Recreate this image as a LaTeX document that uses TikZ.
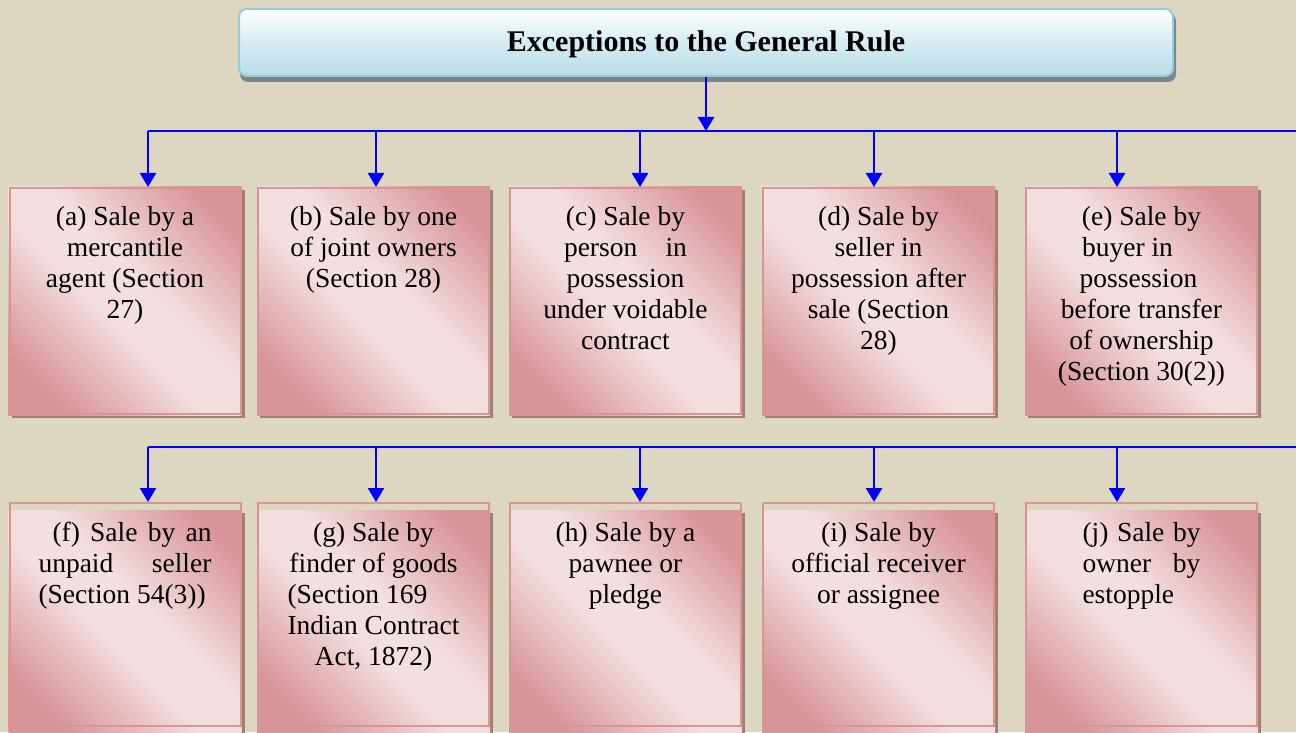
\documentclass[tikz,border=0pt]{standalone}
\usepackage{fontspec}
\setmainfont{Liberation Serif}
\usetikzlibrary{arrows.meta,backgrounds,calc}
\definecolor{bgtan}{RGB}{221,215,193}
\definecolor{pkb}{RGB}{217,149,148}
\definecolor{pkd}{RGB}{216,148,153}
\definecolor{pkl}{RGB}{243,222,224}
\definecolor{pksh}{RGB}{160,126,118}
\definecolor{tbord}{RGB}{146,205,220}
\definecolor{tblue}{RGB}{183,221,232}
\definecolor{tmid}{RGB}{214,236,242}
\definecolor{tsh}{RGB}{125,133,135}
\pgfdeclareverticalshading{pinkdiag}{100bp}{color(0bp)=(pkd); color(24bp)=(pkd); color(45bp)=(pkl); color(56bp)=(pkl); color(78bp)=(pkd); color(100bp)=(pkd)}
\newcommand\mybox[2]{\parbox[t][#1][t]{231pt}{\centering\rule{0pt}{38pt}#2}}
\begin{document}
\begin{tikzpicture}[x=1pt,y=1pt,
  conn/.style={blue, line width=2.5pt},
  arr/.style={conn, -{Triangle[width=16pt,length=14pt]}},
  pinkbox/.style={draw=pkb, line width=2pt, inner sep=0pt, anchor=north,
    font=\fontsize{27.5}{31}\selectfont},
  titlebox/.style={draw=tbord, line width=2pt, rounded corners=8pt,
    minimum width=934pt, minimum height=67pt, inner sep=0pt,
    top color=white, bottom color=tblue, middle color=tmid,
    font=\fontsize{30}{36}\selectfont\bfseries}
]
\useasboundingbox (0,0) rectangle (1296,732);

% title
\node[titlebox] (title) at (706,689.5) {\raisebox{-2pt}[\height][\depth]{Exceptions to the General Rule}};

% row 1
\node[pinkbox] (a) at (125,545) {\mybox{226pt}{(a) Sale by a\\mercantile\\agent (Section\\27)}};
\node[pinkbox] (b) at (373.5,545) {\mybox{226pt}{(b) Sale by one\\of joint owners\\(Section 28)}};
\node[pinkbox] (c) at (625.5,545) {\mybox{226pt}{(c) Sale by\\\makebox[123pt][s]{person in}\\possession\\under voidable\\contract}};
\node[pinkbox] (d) at (878.5,545) {\mybox{226pt}{(d) Sale by\\seller in\\possession after\\sale (Section\\28)}};
\node[pinkbox] (e) at (1141.5,545) {\mybox{226pt}{(e) Sale by\\buyer in\rule{28pt}{0pt}\\possession\rule{6pt}{0pt}\\before transfer\\of ownership\\(Section 30(2))}};

% row 2
\node[pinkbox] (f) at (125,230) {\mybox{223pt}{\hspace*{14pt}\makebox[159pt][s]{(f) Sale by an}\\\makebox[173pt][s]{unpaid seller}\\\makebox[173pt][l]{(Section 54(3))}}};
\node[pinkbox] (g) at (373.5,230) {\mybox{223pt}{(g) Sale by\\finder of goods\\\makebox[172pt][l]{(Section 169}\\Indian Contract\\Act, 1872)}};
\node[pinkbox] (h) at (625.5,230) {\mybox{223pt}{(h) Sale by a\\pawnee or\\pledge}};
\node[pinkbox] (i) at (878.5,230) {\mybox{223pt}{(i) Sale by\\official receiver\\or assignee}};
\node[pinkbox] (j) at (1141.5,230) {\mybox{223pt}{\makebox[118pt][s]{(j) Sale by}\\\makebox[118pt][s]{owner by}\\\makebox[118pt][l]{estopple}}};

% backgrounds, shadows and fills
\begin{scope}[on background layer]
  \fill[bgtan] (0,0) rectangle (1296,732);
  \fill[tsh, rounded corners=8pt] ($(title.south west)+(2,-5)$) rectangle ($(title.north east)+(2,-5)$);
  \foreach \n in {a,b,c,d,e}{
    \fill[pksh] ($(\n.south west)+(3,-3)$) rectangle ($(\n.north east)+(3,-3)$);
    \shade[shading=pinkdiag, shading angle=-45] (\n.south west) rectangle (\n.north east);
  }
  \foreach \n in {f,g,h,i,j}{
    \fill[pksh] ($(\n.south west)+(3,-11)$) rectangle ($(\n.north east)+(3,-11)$);
    \shade[shading=pinkdiag, shading angle=-45] ($(\n.south west)+(0,-8)$) rectangle ($(\n.north east)+(0,-8)$);
  }
\end{scope}

% connectors, row 1
\coordinate (bus1) at (706,601);
\coordinate (bus1r) at (1296,601);
\draw[arr] (title.south) -- (bus1);
\foreach \n/\x in {a/148,b/376,c/640,d/874,e/1117}{
  \coordinate (t\n) at (\x,601);
}
\draw[conn] (ta) -- (bus1r);
\foreach \n in {a,b,c,d,e}{
  \draw[arr] (t\n) -- (t\n |- \n.north);
}

% connectors, row 2
\coordinate (bus2r) at (1296,285);
\foreach \n/\x in {f/148,g/376,h/640,i/874,j/1117}{
  \coordinate (t\n) at (\x,285);
}
\draw[conn] (tf) -- (bus2r);
\foreach \n in {f,g,h,i,j}{
  \draw[arr] (t\n) -- (t\n |- \n.north);
}
\end{tikzpicture}
\end{document}
